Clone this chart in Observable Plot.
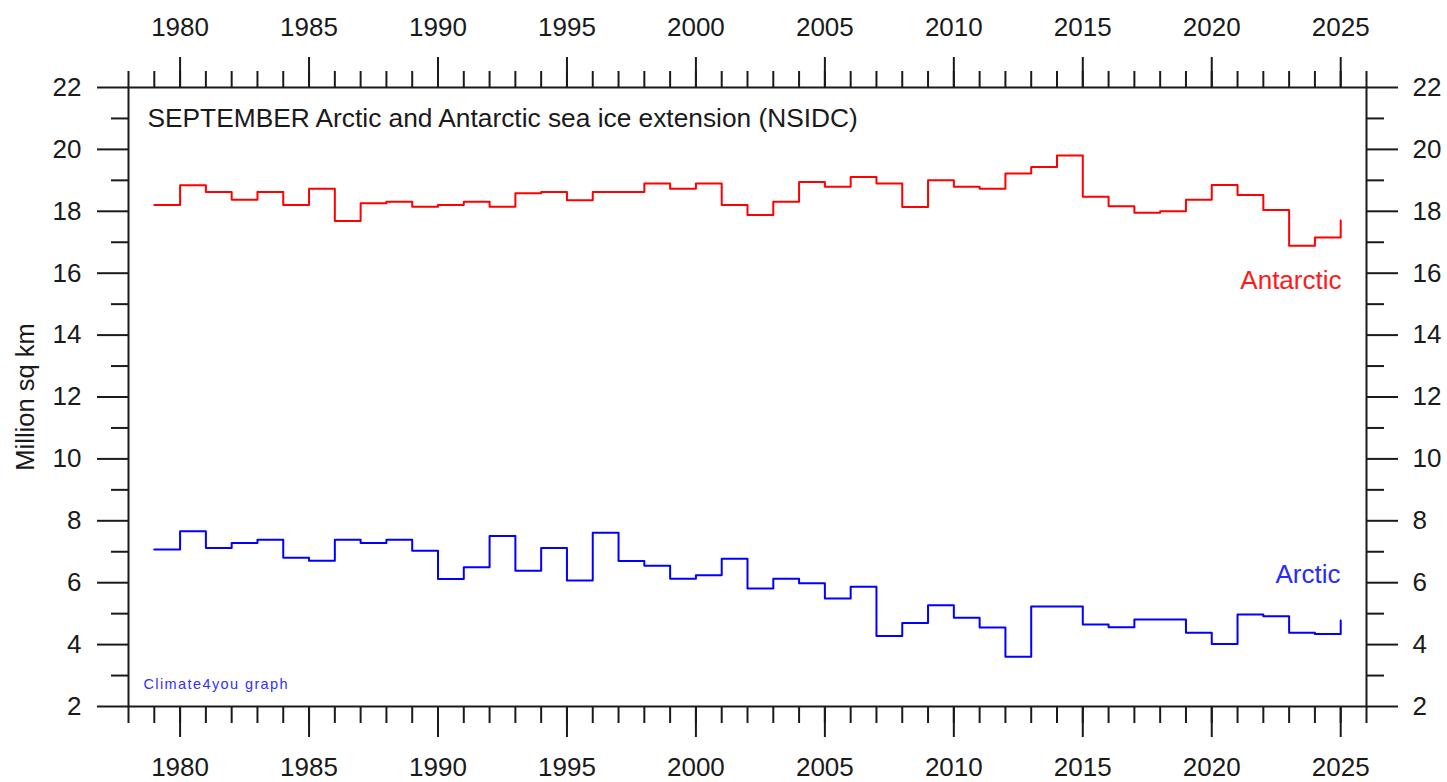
<!DOCTYPE html>
<html>
<head>
<meta charset="utf-8">
<script src="https://cdn.jsdelivr.net/npm/d3@7"></script>
<script src="https://cdn.jsdelivr.net/npm/@observablehq/plot@0.6"></script>
<style>
  html, body { margin: 0; padding: 0; background: #fff; }
  #chart svg { display: block; }
</style>
</head>
<body>
<div id="chart"></div>
<script>
// ---- data ----
const years = [1979,1980,1981,1982,1983,1984,1985,1986,1987,1988,1989,1990,1991,1992,1993,1994,1995,1996,1997,1998,1999,2000,2001,2002,2003,2004,2005,2006,2007,2008,2009,2010,2011,2012,2013,2014,2015,2016,2017,2018,2019,2020,2021,2022,2023,2024,2025];
const antarctic = [18.20,18.84,18.62,18.37,18.62,18.20,18.73,17.69,18.26,18.31,18.15,18.20,18.31,18.15,18.58,18.62,18.36,18.62,18.62,18.90,18.73,18.90,18.20,17.88,18.31,18.95,18.79,19.11,18.90,18.14,19.00,18.79,18.73,19.22,19.43,19.80,18.47,18.16,17.95,18.00,18.37,18.85,18.53,18.04,16.89,17.15,17.70];
const arctic = [7.07,7.66,7.12,7.28,7.39,6.81,6.71,7.39,7.28,7.39,7.03,6.12,6.50,7.51,6.39,7.12,6.07,7.61,6.70,6.55,6.13,6.24,6.77,5.81,6.13,5.98,5.49,5.87,4.28,4.70,5.27,4.87,4.55,3.61,5.23,5.23,4.65,4.56,4.81,4.81,4.38,4.02,4.97,4.92,4.38,4.34,4.78];
const majorYearTicks = [1980,1985,1990,1995,2000,2005,2010,2015,2020,2025];
const minorYearTicks = d3.range(1978, 2027);
const majorYTicks = [2,4,6,8,10,12,14,16,18,20,22];
const minorYTicks = [3,5,7,9,11,13,15,17,19,21];
const titleText = "SEPTEMBER Arctic and Antarctic sea ice extension (NSIDC)";
const yLabel = "Million sq km";
const creditText = "Climate4you graph";

// ---- chart ----
const font = "'Liberation Sans', Arial, Helvetica, sans-serif";
const ink = "#1a1a1a";
const rows = vals => years.map((year, i) => ({year, value: vals[i]}));
const noText = () => "";
const numFmt = d => `${d}`;

const chart = Plot.plot({
  width: 1447,
  height: 782,
  marginLeft: 128,
  marginRight: 81,
  marginTop: 87,
  marginBottom: 76,
  style: {fontFamily: font, fontSize: "26px", color: ink, background: "#fff", overflow: "visible"},
  x: {domain: [1978, 2026]},
  y: {domain: [2, 22]},
  marks: [
    Plot.line(rows(antarctic), {x: "year", y: "value", curve: "step-after", stroke: "#ff0000", strokeWidth: 2}),
    Plot.line(rows(arctic), {x: "year", y: "value", curve: "step-after", stroke: "#0000ff", strokeWidth: 2}),
    Plot.frame({stroke: ink, strokeWidth: 2}),
    // top axis
    Plot.axisX(minorYearTicks, {anchor: "top", tickSize: 17, strokeWidth: 2, stroke: ink, tickFormat: noText, label: null}),
    Plot.axisX(majorYearTicks, {anchor: "top", tickSize: 31, strokeWidth: 2, stroke: ink, fill: ink, tickPadding: 21, tickFormat: numFmt, label: null, fontSize: 26}),
    // bottom axis
    Plot.axisX(minorYearTicks, {anchor: "bottom", tickSize: 17, strokeWidth: 2, stroke: ink, tickFormat: noText, label: null}),
    Plot.axisX(majorYearTicks, {anchor: "bottom", tickSize: 31, strokeWidth: 2, stroke: ink, fill: ink, tickPadding: 20, tickFormat: numFmt, label: null, fontSize: 26}),
    // left axis
    Plot.axisY(minorYTicks, {anchor: "left", tickSize: 17, strokeWidth: 2, stroke: ink, tickFormat: noText, label: null}),
    Plot.axisY(majorYTicks, {anchor: "left", tickSize: 31, strokeWidth: 2, stroke: ink, fill: ink, tickPadding: 16, tickFormat: numFmt, label: null, fontSize: 26}),
    // right axis
    Plot.axisY(minorYTicks, {anchor: "right", tickSize: 17, strokeWidth: 2, stroke: ink, tickFormat: noText, label: null}),
    Plot.axisY(majorYTicks, {anchor: "right", tickSize: 31, strokeWidth: 2, stroke: ink, fill: ink, tickPadding: 15, tickFormat: numFmt, label: null, fontSize: 26}),
    // texts
    Plot.text([titleText], {frameAnchor: "top-left", text: d => d, textAnchor: "start", lineAnchor: "bottom", dx: 19, dy: 39, fontSize: 26.3, fill: ink}),
    Plot.text(["Antarctic"], {frameAnchor: "top-right", text: d => d, textAnchor: "end", lineAnchor: "bottom", dx: -25, dy: 201, fontSize: 26, fill: "#ff1a1a"}),
    Plot.text(["Arctic"], {frameAnchor: "top-right", text: d => d, textAnchor: "end", lineAnchor: "bottom", dx: -26, dy: 495, fontSize: 26, fill: "#2a2aff"}),
    Plot.text([creditText], {frameAnchor: "bottom-left", text: d => d, textAnchor: "start", lineAnchor: "bottom", dx: 15, dy: -18, fontSize: 14.5, fill: "#3030ff"}),
    Plot.text([yLabel], {frameAnchor: "left", text: d => d, textAnchor: "middle", lineAnchor: "middle", rotate: -90, dx: -103, fontSize: 25.5, fill: ink})
  ]
});

d3.select(chart).selectAll("text")
  .filter(function() { return this.textContent === creditText; })
  .style("letter-spacing", "1.4px");

document.getElementById("chart").appendChild(chart);
</script>
</body>
</html>
